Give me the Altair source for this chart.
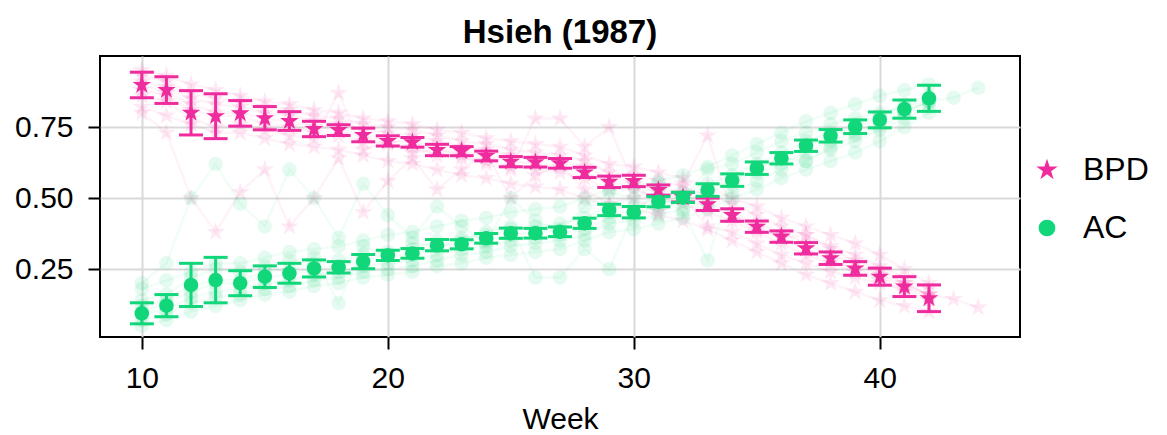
import altair as alt
import pandas as pd

weeks = list(range(10, 43))
weeks_ext = list(range(10, 45))

bpd_mean = [0.898, 0.880, 0.800, 0.788, 0.798, 0.781, 0.771, 0.743, 0.739, 0.722, 0.701,
            0.696, 0.669, 0.665, 0.648, 0.628, 0.626, 0.622, 0.590, 0.557, 0.560, 0.528,
            0.503, 0.478, 0.440, 0.399, 0.364, 0.323, 0.288, 0.252, 0.223, 0.188, 0.147]
bpd_err = [0.045, 0.047, 0.078, 0.079, 0.045, 0.041, 0.033, 0.027, 0.019, 0.024, 0.018,
           0.017, 0.020, 0.016, 0.017, 0.018, 0.017, 0.017, 0.018, 0.020, 0.020, 0.018,
           0.017, 0.022, 0.022, 0.020, 0.020, 0.020, 0.022, 0.024, 0.030, 0.035, 0.047]
ac_mean = [0.094, 0.121, 0.194, 0.211, 0.200, 0.223, 0.235, 0.252, 0.256, 0.276, 0.298,
           0.305, 0.334, 0.337, 0.358, 0.376, 0.376, 0.381, 0.411, 0.458, 0.450, 0.487,
           0.502, 0.528, 0.563, 0.605, 0.640, 0.684, 0.719, 0.751, 0.775, 0.813, 0.851]
ac_err = [0.037, 0.039, 0.076, 0.080, 0.044, 0.038, 0.035, 0.030, 0.020, 0.025, 0.018,
          0.017, 0.020, 0.016, 0.017, 0.018, 0.017, 0.017, 0.018, 0.020, 0.020, 0.018,
          0.018, 0.022, 0.022, 0.022, 0.020, 0.020, 0.022, 0.024, 0.028, 0.032, 0.046]

# faint individual trajectories (approximate, read from the cloud)
ac_traj = [
    [0.18, 0.21, 0.24, 0.27, 0.27, 0.29, 0.31, 0.32, 0.33, 0.35, 0.37, 0.38, 0.40, 0.42, 0.43, 0.45, 0.46,
     0.47, 0.50, 0.53, 0.54, 0.56, 0.58, 0.61, 0.65, 0.69, 0.73, 0.77, 0.80, 0.83, 0.86, 0.88, 0.90],
    [0.05, 0.07, 0.10, 0.12, 0.14, 0.16, 0.17, 0.19, 0.20, 0.22, 0.23, 0.24, 0.26, 0.27, 0.29, 0.30, 0.31,
     0.32, 0.35, 0.38, 0.39, 0.41, 0.43, 0.46, 0.50, 0.53, 0.57, 0.60, 0.63, 0.66, 0.70, 0.75, 0.80],
    [0.09, 0.11, 0.15, 0.17, 0.18, 0.20, 0.21, 0.23, 0.24, 0.26, 0.27, 0.28, 0.30, 0.32, 0.33, 0.35, 0.36,
     0.37, 0.39, 0.43, 0.44, 0.47, 0.49, 0.52, 0.55, 0.59, 0.62, 0.66, 0.70, 0.73, 0.77, 0.80, 0.84],
    [0.12, 0.14, 0.19, 0.21, 0.21, 0.24, 0.25, 0.27, 0.28, 0.30, 0.31, 0.32, 0.35, 0.36, 0.37, 0.39, 0.40,
     0.41, 0.43, 0.47, 0.47, 0.50, 0.52, 0.55, 0.58, 0.62, 0.66, 0.70, 0.73, 0.76, 0.79, 0.83, 0.86],
    [0.20, 0.27, 0.50, 0.62, 0.48, 0.40, 0.60, 0.50, 0.36, 0.55, 0.44, 0.36, 0.47, 0.40, 0.34, 0.50, 0.42,
     0.38, 0.47, 0.52, 0.50, 0.55, 0.50, 0.60, 0.62, 0.66, 0.70, 0.73, 0.76, 0.78, 0.80, 0.82, 0.85],
    [0.14, 0.16, 0.22, 0.25, 0.24, 0.26, 0.28, 0.29, 0.13, 0.33, 0.30, 0.34, 0.33, 0.35, 0.38, 0.40, 0.22,
     0.22, 0.32, 0.25, 0.45, 0.52, 0.45, 0.28, 0.56, 0.60, 0.64, 0.63, 0.68, 0.72, 0.75, 0.80, 0.84],
    [0.10, 0.13, 0.17, 0.20, 0.20, 0.22, 0.23, 0.25, 0.26, 0.28, 0.30, 0.30, 0.33, 0.34, 0.35, 0.37, 0.38,
     0.39, 0.41, 0.45, 0.45, 0.48, 0.50, 0.53, 0.56, 0.61, 0.64, 0.68, 0.72, 0.75, 0.78, 0.81, 0.84, 0.853, 0.888],
    [0.07, 0.09, 0.13, 0.15, 0.16, 0.18, 0.19, 0.21, 0.22, 0.24, 0.25, 0.26, 0.28, 0.30, 0.31, 0.33, 0.34,
     0.35, 0.37, 0.41, 0.42, 0.44, 0.46, 0.49, 0.52, 0.56, 0.60, 0.63, 0.67, 0.70, 0.74, 0.78, 0.82],
]
bpd_traj = [
    [0.82, 0.79, 0.76, 0.73, 0.73, 0.71, 0.69, 0.68, 0.67, 0.65, 0.63, 0.62, 0.60, 0.58, 0.57, 0.55, 0.54,
     0.53, 0.50, 0.47, 0.46, 0.44, 0.42, 0.39, 0.35, 0.31, 0.27, 0.23, 0.20, 0.17, 0.14, 0.12, 0.10],
    [0.95, 0.93, 0.90, 0.88, 0.86, 0.84, 0.83, 0.81, 0.80, 0.78, 0.77, 0.76, 0.74, 0.73, 0.71, 0.70, 0.69,
     0.68, 0.65, 0.62, 0.61, 0.59, 0.57, 0.54, 0.50, 0.47, 0.43, 0.40, 0.37, 0.34, 0.30, 0.25, 0.20],
    [0.91, 0.89, 0.85, 0.83, 0.82, 0.80, 0.79, 0.77, 0.76, 0.74, 0.73, 0.72, 0.70, 0.68, 0.67, 0.65, 0.64,
     0.63, 0.61, 0.57, 0.56, 0.53, 0.51, 0.48, 0.45, 0.41, 0.38, 0.34, 0.30, 0.27, 0.23, 0.20, 0.16],
    [0.88, 0.86, 0.81, 0.79, 0.79, 0.76, 0.75, 0.73, 0.72, 0.70, 0.69, 0.68, 0.65, 0.64, 0.63, 0.61, 0.60,
     0.59, 0.57, 0.53, 0.53, 0.50, 0.48, 0.45, 0.42, 0.38, 0.34, 0.30, 0.27, 0.24, 0.21, 0.17, 0.14],
    [0.80, 0.73, 0.50, 0.38, 0.52, 0.60, 0.40, 0.50, 0.64, 0.45, 0.56, 0.64, 0.53, 0.60, 0.66, 0.50, 0.58,
     0.62, 0.53, 0.48, 0.50, 0.45, 0.50, 0.40, 0.38, 0.34, 0.30, 0.27, 0.24, 0.22, 0.20, 0.18, 0.15],
    [0.86, 0.84, 0.78, 0.75, 0.76, 0.74, 0.72, 0.71, 0.87, 0.67, 0.70, 0.66, 0.67, 0.65, 0.62, 0.60, 0.78,
     0.78, 0.68, 0.75, 0.55, 0.48, 0.55, 0.72, 0.44, 0.40, 0.36, 0.37, 0.32, 0.28, 0.25, 0.20, 0.16],
    [0.90, 0.87, 0.83, 0.80, 0.80, 0.78, 0.77, 0.75, 0.74, 0.72, 0.70, 0.70, 0.67, 0.66, 0.65, 0.63, 0.62,
     0.61, 0.59, 0.55, 0.55, 0.52, 0.50, 0.47, 0.44, 0.39, 0.36, 0.32, 0.28, 0.25, 0.22, 0.19, 0.16, 0.144, 0.114],
    [0.93, 0.91, 0.87, 0.85, 0.84, 0.82, 0.81, 0.79, 0.78, 0.76, 0.75, 0.74, 0.72, 0.70, 0.69, 0.67, 0.66,
     0.65, 0.63, 0.59, 0.58, 0.56, 0.54, 0.51, 0.48, 0.44, 0.40, 0.37, 0.33, 0.30, 0.26, 0.22, 0.18],
]

groups = ["BPD", "AC"]
colors = {"BPD": "#EE2C9E", "AC": "#12D67A"}
# five-pointed star as a custom symbol path (unit box, slightly enlarged)
STAR = ("M0,-1.35L0.303,-0.417L1.284,-0.417L0.490,0.159L0.794,1.092L0,0.516"
        "L-0.794,1.092L-0.490,0.159L-1.284,-0.417L-0.303,-0.417Z")
shapes = {"BPD": STAR, "AC": "circle"}
FONT = "Liberation Sans"

mrows = []
for g, m, e in (("BPD", bpd_mean, bpd_err), ("AC", ac_mean, ac_err)):
    for w, mv, ev in zip(weeks, m, e):
        mrows.append({"week": w, "group": g, "value": mv, "lo": mv - ev, "hi": mv + ev})
mdf = pd.DataFrame(mrows)
trows = []
for g, trajs in (("BPD", bpd_traj), ("AC", ac_traj)):
    for i, t in enumerate(trajs):
        for w, v in zip(weeks_ext, t):
            trows.append({"week": w, "group": g, "traj": f"{g}{i}", "value": v})
tdf = pd.DataFrame(trows)

xs = alt.Scale(domain=[8.3, 45.7], nice=False, zero=False)
ys = alt.Scale(domain=[0.0106, 1.0], nice=False, zero=False)
xaxis = alt.Axis(values=[10, 20, 30, 40], title="Week")
yaxis = alt.Axis(values=[0.25, 0.5, 0.75], format=".2f", title=None)
cscale = alt.Scale(domain=groups, range=[colors[g] for g in groups])
sscale = alt.Scale(domain=groups, range=[shapes[g] for g in groups])

X = alt.X("week:Q", scale=xs, axis=xaxis)
Y = alt.Y("value:Q", scale=ys, axis=yaxis)
YLO = alt.Y("lo:Q", scale=ys, axis=yaxis)
YHI = alt.Y("hi:Q", scale=ys, axis=yaxis)

layers = []
for g in groups:
    td = tdf[tdf.group == g]
    layers.append(alt.Chart(td).mark_line(color=colors[g], opacity=0.06, strokeWidth=2.5).encode(
        x=X, y=Y, detail="traj:N"))
    layers.append(alt.Chart(td).mark_point(color=colors[g], shape=shapes[g], filled=True,
                                           opacity=0.11, size=210).encode(x=X, y=Y))
for g in groups:
    md = mdf[mdf.group == g]
    layers.append(alt.Chart(md).mark_rule(color=colors[g], strokeWidth=3).encode(
        x=X, y=YLO, y2="hi:Q"))
    for yy in (YLO, YHI):
        layers.append(alt.Chart(md).mark_point(color=colors[g], shape="M -1 0 L 1 0", filled=False,
                                               size=576, strokeWidth=3, opacity=1).encode(x=X, y=yy))

leg = alt.Legend(title=None, orient="none", legendX=931, legendY=98, symbolOpacity=1)
layers.append(alt.Chart(mdf).mark_point(filled=True, opacity=1, size=210).encode(
    x=X, y=Y,
    color=alt.Color("group:N", scale=cscale, legend=leg),
    shape=alt.Shape("group:N", scale=sscale, legend=leg)))

chart = alt.layer(*layers).properties(
    width=920, height=281,
    title=alt.Title("Hsieh (1987)", font=FONT, fontSize=33, fontWeight="bold", offset=6, color="black"),
    autosize=alt.AutoSizeParams(type="none"),
    padding={"left": 92, "top": 48, "right": 139, "bottom": 98},
).configure_view(stroke="black", strokeWidth=2).configure_axis(
    labelFont=FONT, titleFont=FONT, labelFontSize=30, titleFontSize=30, titleFontWeight="normal",
    labelColor="black", titleColor="black", tickColor="black", tickWidth=2, tickSize=12,
    grid=True, gridColor="#d9d9d9", gridWidth=2, domain=False,
).configure_axisX(labelPadding=14, titlePadding=11).configure_axisY(labelPadding=15).configure_legend(
    labelFont=FONT, labelFontSize=32, labelColor="black", symbolSize=280, rowPadding=26,
    labelOffset=20, symbolStrokeWidth=0, padding=0)

chart.save("out.html", embed_options={"renderer": "svg", "actions": False})
